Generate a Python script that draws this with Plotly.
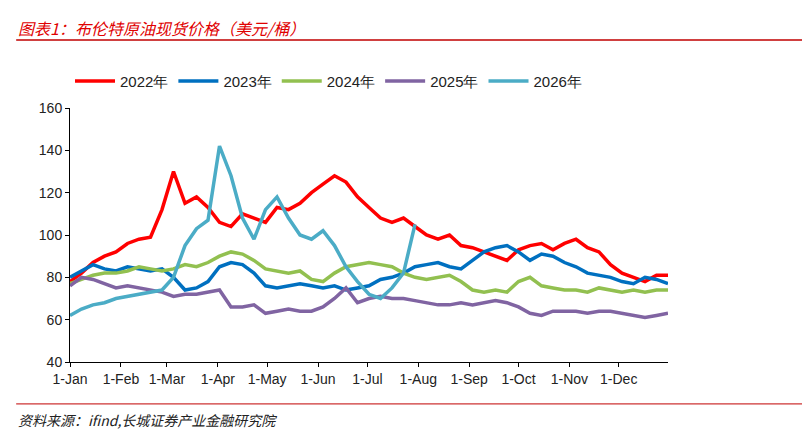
import plotly.graph_objects as go
import pandas as pd

s2022 = [78,82,87,90, 92,96,98,99, 112,130,115,118,113, 106,104,110,108, 106,113,112,115,
         120,124,128,125,118, 113,108,106,108, 104,100,98,100,95, 94,92,90,88, 93,95,96,93,
         96,98,94,92,86, 82,80,78,81,81]
s2023 = [80,83,86,84, 83,85,84,83, 84,80,74,75,78, 85,87,86,82, 76,75,76,77, 76,75,76,74,75,
         76,79,80,82, 85,86,87,85,84, 88,92,94,95, 92,88,91,90, 87,85,82,81,80, 78,77,80,79,77]
s2024 = [77,79,81,82, 82,83,85,84, 83,84,86,85,87, 90,92,91,88, 84,83,82,83, 79,78,82,85,86,
         87,86,85,82, 80,79,80,81,78, 74,73,74,73, 78,80,76,75, 74,74,73,75,74, 73,74,73,74,74]
s2025 = [76,80,79,77, 75,76,75,74, 73,71,72,72,73, 74,66,66,67, 63,64,65,64, 64,66,70,75,68,
         70,71,70,70, 69,68,67,67,68, 67,68,69,68, 66,63,62,64, 64,64,63,64,64, 63,62,61,62,63]
s2026 = [62,65,67,68, 70,71,72,73, 74,80,95,103,107, 142,128,108,98, 112,118,108,100,
         98,102,95,85,78, 72,70,75,82,105]
names = ["2022年", "2023年", "2024年", "2025年", "2026年"]
colors = ["#FF0000", "#0070C0", "#92C050", "#8064A2", "#4BACC6"]
tick_labels = ["1-Jan","1-Feb","1-Mar","1-Apr","1-May","1-Jun","1-Jul","1-Aug","1-Sep","1-Oct","1-Nov","1-Dec"]

fig = go.Figure()
for name, vals, c in zip(names, [s2022, s2023, s2024, s2025, s2026], colors):
    x = pd.date_range("2022-01-01", periods=len(vals), freq="7D")
    x = [d if d.year == 2022 else pd.Timestamp("2022-12-31") for d in x]
    fig.add_trace(go.Scatter(x=x, y=vals, name=name, mode="lines",
                             line=dict(color=c, width=3.5)))

tickvals = pd.date_range("2022-01-01", periods=12, freq="MS")
fig.update_layout(
    width=810, height=429, paper_bgcolor="white", plot_bgcolor="white",
    margin=dict(l=62, r=150, t=100, b=75, autoexpand=False),
    font=dict(family="Liberation Sans, Arial", size=14, color="#222"),
    showlegend=True,
    legend=dict(orientation="h", x=0.0, y=1.17, xanchor="left", yanchor="top",
                font=dict(size=15), traceorder="normal", itemwidth=40),
    xaxis=dict(range=["2022-01-01", "2022-12-31"], tickvals=tickvals, ticktext=tick_labels,
               showgrid=False, showline=True, linecolor="black", ticks="outside",
               ticklen=4, tickcolor="black", tickfont=dict(size=14)),
    yaxis=dict(range=[40, 160], dtick=20, showgrid=False, showline=True, linecolor="black",
               ticks="outside", ticklen=4, tickcolor="black", tickfont=dict(size=14)),
)
fig.add_annotation(xref="paper", yref="paper", x=-0.09, y=1.37, xanchor="left", yanchor="top",
                   text="<i>图表1：布伦特原油现货价格（美元/桶）</i>", showarrow=False,
                   font=dict(color="#E00000", size=16, family="Noto Sans CJK SC"))
fig.add_shape(type="line", xref="paper", yref="paper", x0=-0.09, x1=1.245, y0=1.268, y1=1.268,
              line=dict(color="#C00000", width=1.5))
fig.add_shape(type="line", xref="paper", yref="paper", x0=-0.09, x1=1.245, y0=-0.165, y1=-0.165,
              line=dict(color="#C00000", width=1))
fig.add_annotation(xref="paper", yref="paper", x=-0.09, y=-0.18, xanchor="left", yanchor="top",
                   text="<i>资料来源：ifind,长城证券产业金融研究院</i>", showarrow=False,
                   font=dict(color="#222", size=14, family="Noto Sans CJK SC"))
fig.write_html("out.html")
